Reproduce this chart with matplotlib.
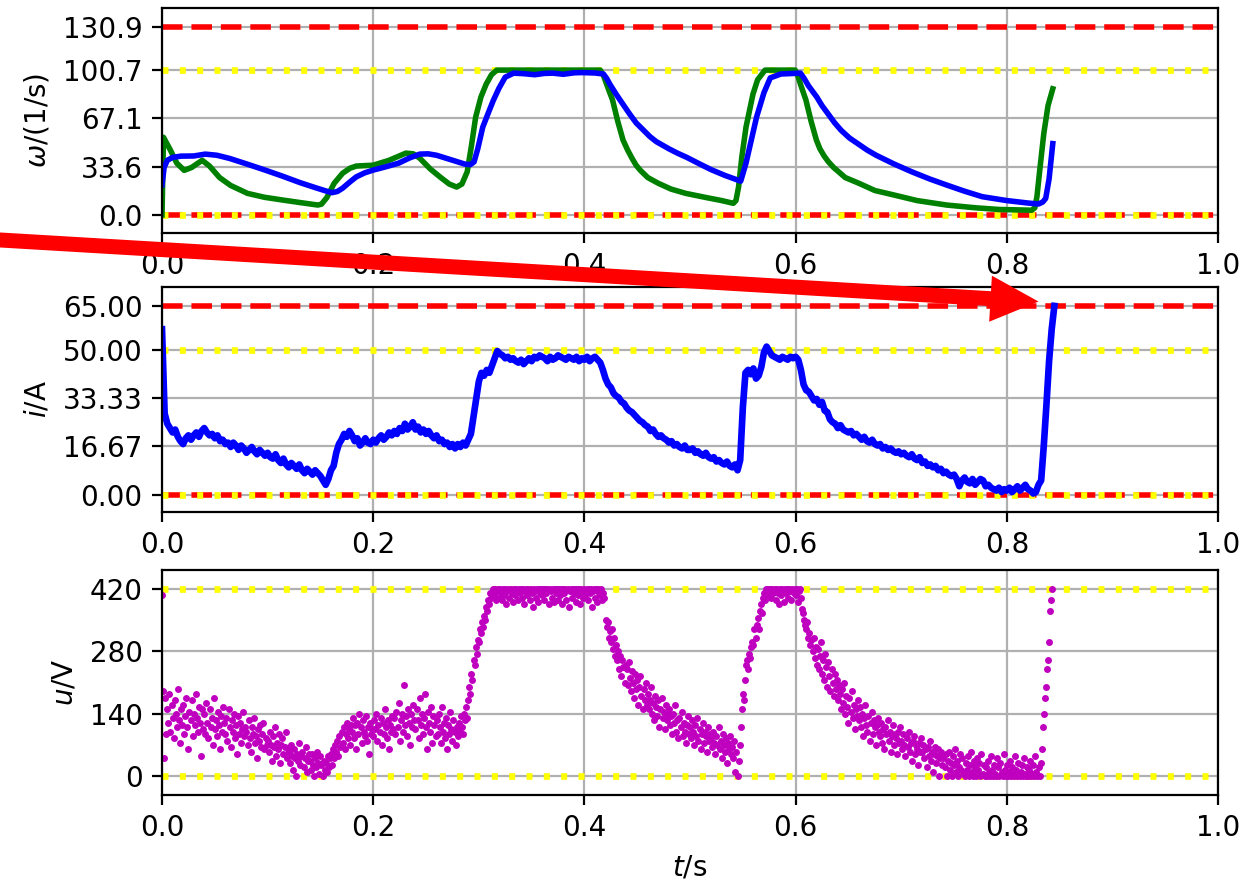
import numpy as np
import matplotlib.pyplot as plt

t_ref = [0.0, 0.0014, 0.008, 0.014, 0.021, 0.028, 0.038, 0.045, 0.0545, 0.065, 0.081, 0.097,
         0.114, 0.13, 0.1475, 0.151, 0.156, 0.163, 0.171, 0.178, 0.184, 0.2, 0.215, 0.231,
         0.238, 0.244, 0.254, 0.264, 0.272, 0.279, 0.284, 0.289, 0.293, 0.297, 0.302, 0.307,
         0.312, 0.317, 0.415, 0.418, 0.421, 0.4235, 0.4266, 0.4316, 0.4366, 0.441, 0.445, 0.449,
         0.453, 0.46, 0.47, 0.482, 0.496, 0.516, 0.53, 0.541, 0.5435, 0.546, 0.549, 0.553,
         0.5596, 0.564, 0.571, 0.5996, 0.602, 0.605, 0.6097, 0.6147, 0.6197, 0.623, 0.627, 0.631,
         0.636, 0.647, 0.66, 0.675, 0.693, 0.715, 0.743, 0.77, 0.793, 0.8235, 0.8265, 0.8285,
         0.831, 0.835, 0.839, 0.8435]
omega_ref = [0.0, 54, 45, 36, 31, 33, 38, 34, 26, 20.5, 15, 12.3,
             10.4, 8.7, 6.9, 7.5, 12, 22, 29, 32.5, 34, 34.6, 38, 43,
             42.5, 39.5, 32, 26, 21.5, 19.4, 21.5, 30, 48, 68, 82, 91,
             97.5, 100.7, 100.7, 97, 91, 86, 80, 65, 52, 45, 39.5, 34.5,
             31, 26, 22, 18, 15, 12, 10, 8.1, 10, 19.6, 40, 61,
             84, 94, 100.7, 100.7, 97, 90, 80, 65, 52, 46, 41, 37,
             33, 26, 22, 17, 13.9, 10, 6.9, 5, 3.8, 3.3, 5, 12.7,
             30, 56.6, 76, 87.7]

t_omega = [0.0, 0.002, 0.005, 0.01, 0.018, 0.03, 0.041, 0.052, 0.064, 0.08, 0.0976, 0.114,
           0.131, 0.146, 0.156, 0.161, 0.166, 0.171, 0.178, 0.184, 0.192, 0.2, 0.212, 0.224,
           0.234, 0.244, 0.252, 0.26, 0.274, 0.287, 0.292, 0.2955, 0.299, 0.3037, 0.309, 0.3137,
           0.319, 0.325, 0.333, 0.343, 0.353, 0.362, 0.37, 0.38, 0.39, 0.397, 0.41, 0.418,
           0.421, 0.424, 0.43, 0.436, 0.443, 0.449, 0.456, 0.462, 0.468, 0.474, 0.48, 0.488,
           0.497, 0.509, 0.52, 0.533, 0.548, 0.553, 0.558, 0.563, 0.57, 0.576, 0.586, 0.6046,
           0.608, 0.612, 0.62, 0.625, 0.631, 0.637, 0.643, 0.651, 0.66, 0.668, 0.676, 0.693,
           0.71, 0.727, 0.743, 0.76, 0.7767, 0.8, 0.82, 0.83, 0.834, 0.8368, 0.84, 0.8435]
omega = [21, 33, 38, 40, 40.9, 41, 42.3, 41.5, 39.3, 35.5, 31.2, 27,
         22.4, 18.8, 16.5, 15.5, 16.3, 18.6, 23, 26.5, 29.3, 31.2, 33.5, 36,
         39.5, 42.3, 42.5, 41.5, 38.3, 35.3, 35, 36.9, 46, 61, 71, 79.6,
         88, 95.8, 98.6, 98.2, 97.5, 98.4, 98.6, 97.8, 98.8, 99, 98.7, 98,
         95, 91, 84, 77.5, 70, 64, 58.9, 54.5, 51, 48.5, 46, 43,
         40, 35.5, 31.5, 27.5, 23.5, 36, 52, 68, 85, 95.3, 98, 98.6,
         95, 90, 82, 76, 70, 64, 58.9, 53.5, 49, 45, 41.6, 35.5,
         30, 25, 20.8, 16.5, 12.7, 10, 8.3, 7.6, 9, 11.5, 25, 49.6]

# current, one value every 2.5 ms
dt_i = 0.0025
current = [
    57.0, 28.0, 24.5, 23.0, 21.5, 22.5, 20.0, 18.5, 17.5, 19.5, 20.5, 19.0, 20.5, 21.5, 20.0, 22.0, 23.0, 21.5, 20.5, 21.0,
    19.5, 20.5, 18.5, 19.0, 17.5, 18.0, 16.5, 18.0, 17.0, 15.5, 17.0, 16.0, 14.5, 15.5, 16.5, 15.0, 14.0, 15.5, 14.5, 13.5,
    14.5, 13.0, 12.5, 14.0, 12.0, 11.0, 12.5, 10.5, 9.5, 11.0, 10.0, 9.0, 10.5, 8.5, 7.5, 9.0, 8.0, 7.0, 8.5, 7.5,
    6.5, 5.0, 3.5, 5.5, 8.5, 10.0, 14.5, 17.5, 19.0, 21.0, 20.0, 22.0, 20.5, 18.5, 19.5, 17.0, 18.0, 19.5, 18.0, 17.5,
    19.0, 18.0, 19.5, 20.5, 19.0, 20.0, 21.5, 20.5, 22.0, 21.0, 23.0, 22.0, 24.5, 22.5, 23.5, 25.0, 22.5, 23.5, 21.5, 22.5,
    21.0, 22.0, 20.5, 19.5, 20.5, 18.5, 19.0, 17.5, 18.0, 16.5, 17.5, 16.0, 17.5, 16.5, 18.0, 17.0, 19.0, 21.0, 27.0, 33.0,
    39.0, 42.0, 41.0, 43.0, 42.0, 44.5, 47.0, 49.5, 48.5, 48.0, 47.0, 47.5, 46.5, 47.0, 46.0, 45.5, 46.5, 45.0, 46.0, 47.0,
    46.0, 47.5, 47.0, 48.0, 47.5, 47.0, 46.0, 47.5, 46.5, 47.0, 48.0, 47.5, 47.0, 46.5, 47.5, 47.0, 46.5, 47.5, 46.0, 47.0,
    46.5, 47.5, 46.0, 47.0, 47.5, 46.5, 45.5, 43.0, 40.0, 38.0, 37.0, 35.0, 34.0, 33.5, 32.0, 31.5, 30.0, 29.0, 28.5, 27.5,
    26.5, 25.5, 25.0, 24.0, 23.5, 22.0, 22.5, 21.0, 20.0, 20.5, 19.5, 19.0, 18.0, 18.5, 17.0, 17.5, 16.5, 16.0, 17.0, 15.5,
    15.5, 16.0, 14.5, 15.0, 14.0, 13.5, 14.5, 13.0, 12.5, 13.0, 11.5, 12.0, 11.0, 10.5, 11.5, 10.0, 9.5, 10.5, 8.5, 12.0,
    30.0, 42.0, 43.0, 41.5, 43.5, 40.0, 41.0, 44.0, 49.0, 51.0, 49.5, 48.0, 47.5, 47.0, 46.5, 47.5, 47.0, 46.5, 47.5, 47.0,
    47.5, 46.5, 43.0, 38.0, 36.0, 35.5, 34.0, 32.5, 33.0, 31.0, 32.0, 29.0, 28.5, 26.0, 25.0, 24.5, 23.0, 24.0, 22.5, 22.0,
    21.5, 22.0, 20.5, 21.0, 20.0, 19.0, 20.0, 18.5, 18.0, 19.0, 17.5, 17.0, 17.5, 16.0, 16.5, 15.5, 16.0, 15.0, 14.5, 15.0,
    14.0, 14.5, 13.5, 13.0, 14.0, 12.5, 12.0, 13.0, 11.0, 11.5, 10.0, 10.5, 9.5, 10.0, 8.5, 9.0, 7.5, 8.0, 7.0, 6.5,
    7.0, 5.5, 3.0, 5.0, 6.0, 4.5, 4.0, 5.5, 3.5, 4.5, 5.5, 5.0, 3.0, 3.5, 2.5, 2.0, 1.5, 2.5, 1.0, 2.0,
    1.5, 2.5, 1.0, 2.0, 3.0, 1.5, 2.5, 3.5, 2.0, 1.5, 0.5, 1.0, 3.5, 5.0, 17.0, 31.0, 46.0, 57.0, 65.0,
]

# voltage, one value every 1 ms
dt_u = 0.001
voltage = [
    405, 190, 42, 175, 95, 150, 120, 185, 100, 160, 130, 85, 170, 140, 110, 195, 125, 75, 150, 115,
    160, 95, 135, 175, 110, 60, 145, 125, 170, 90, 140, 115, 185, 130, 100, 155, 120, 45, 150, 105,
    140, 95, 165, 120, 85, 150, 110, 130, 70, 175, 105, 125, 90, 145, 115, 60, 135, 100, 155, 120,
    95, 130, 80, 150, 110, 65, 125, 100, 140, 85, 115, 50, 135, 95, 120, 75, 105, 145, 90, 110,
    100, 70, 125, 85, 55, 110, 95, 130, 75, 90, 40, 105, 80, 115, 65, 95, 120, 60, 85, 70,
    80, 55, 100, 70, 35, 90, 65, 110, 45, 75, 60, 95, 30, 70, 85, 50, 65, 100, 40, 60,
    55, 30, 70, 45, 15, 60, 40, 0, 50, 35, 75, 25, 45, 55, 20, 40, 65, 10, 35, 50,
    35, 15, 50, 25, 0, 40, 20, 55, 30, 5, 45, 25, 0, 35, 15, 30, 10, 45, 20, 40,
    50, 25, 60, 40, 70, 55, 80, 45, 90, 65, 100, 75, 110, 60, 95, 120, 85, 105, 70, 115,
    100, 130, 85, 115, 60, 120, 95, 140, 110, 75, 125, 100, 90, 135, 80, 110, 50, 120, 95, 105,
    90, 125, 105, 140, 80, 115, 100, 130, 70, 120, 95, 150, 110, 85, 125, 60, 115, 100, 135, 105,
    130, 95, 145, 110, 165, 80, 125, 140, 100, 205, 115, 135, 90, 150, 120, 70, 140, 110, 160, 125,
    105, 150, 125, 85, 175, 115, 140, 95, 130, 185, 110, 60, 145, 120, 100, 155, 75, 135, 115, 90,
    125, 95, 140, 110, 75, 155, 100, 120, 85, 130, 60, 115, 95, 145, 105, 80, 125, 100, 70, 110,
    90, 120, 100, 135, 110, 95, 140, 125, 155, 130, 170, 200, 185, 230, 215, 260, 250, 290, 275, 305,
    300, 330, 320, 345, 335, 360, 350, 380, 370, 395, 385, 410, 400, 420, 405, 420, 395, 415, 420, 400,
    420, 410, 395, 420, 405, 420, 385, 415, 420, 400, 420, 410, 390, 420, 405, 420, 415, 395, 420, 410,
    420, 400, 420, 385, 415, 420, 405, 420, 395, 420, 410, 380, 420, 415, 400, 420, 390, 420, 410, 420,
    405, 420, 395, 420, 410, 420, 385, 420, 415, 400, 420, 390, 420, 410, 420, 395, 420, 405, 420, 385,
    420, 410, 420, 395, 420, 380, 415, 420, 400, 420, 410, 420, 390, 420, 405, 420, 385, 420, 415, 400,
    420, 405, 420, 395, 420, 410, 420, 380, 415, 420, 400, 420, 390, 420, 410, 405, 420, 395, 410, 400,
    350, 335, 345, 310, 325, 300, 330, 285, 310, 270, 295, 260, 280, 240, 270, 225, 260, 245, 210, 250,
    240, 205, 255, 220, 190, 235, 210, 175, 230, 195, 215, 160, 200, 225, 180, 150, 195, 170, 210, 160,
    185, 150, 170, 200, 140, 165, 125, 180, 155, 135, 170, 110, 150, 175, 130, 145, 105, 160, 125, 140,
    150, 115, 135, 95, 140, 120, 160, 100, 125, 85, 130, 110, 145, 90, 120, 100, 75, 115, 135, 95,
    110, 85, 125, 100, 70, 115, 90, 130, 80, 105, 60, 95, 120, 75, 100, 90, 55, 110, 80, 95,
    85, 65, 100, 75, 50, 90, 70, 110, 60, 80, 40, 95, 70, 55, 85, 30, 75, 60, 90, 50,
    65, 40, 80, 10, 55, 0, 35, 70, 110, 150, 185, 170, 215, 250, 260, 240, 275, 265, 290, 300,
    295, 330, 310, 340, 355, 330, 370, 385, 365, 400, 410, 395, 420, 405, 420, 415, 420, 400, 420, 410,
    420, 395, 420, 410, 385, 420, 405, 420, 415, 390, 420, 410, 420, 400, 420, 415, 395, 420, 410, 420,
    405, 420, 390, 415, 420, 400, 375, 365, 350, 340, 330, 345, 310, 320, 295, 305, 280, 310, 265, 290,
    250, 285, 240, 270, 300, 230, 260, 215, 275, 245, 200, 255, 225, 190, 240, 210, 180, 230, 195, 215,
    170, 205, 185, 150, 195, 165, 210, 140, 180, 155, 120, 175, 145, 190, 130, 160, 105, 150, 135, 170,
    125, 155, 110, 140, 90, 130, 160, 115, 100, 135, 80, 120, 145, 95, 125, 110, 70, 115, 130, 100,
    90, 120, 75, 105, 60, 110, 95, 125, 80, 100, 55, 90, 115, 70, 95, 85, 50, 100, 75, 110,
    80, 60, 95, 70, 45, 85, 65, 100, 55, 75, 35, 80, 90, 50, 70, 60, 25, 75, 55, 85,
    55, 70, 40, 60, 20, 65, 45, 80, 35, 55, 10, 50, 65, 30, 45, 60, 0, 40, 55, 25,
    40, 20, 50, 0, 35, 55, 15, 30, 0, 45, 25, 60, 10, 35, 0, 20, 50, 15, 40, 5,
    0, 30, 15, 45, 0, 25, 55, 10, 0, 35, 20, 0, 40, 15, 30, 0, 50, 5, 25, 0,
    20, 0, 35, 10, 0, 45, 15, 0, 25, 5, 0, 40, 20, 0, 30, 10, 0, 50, 15, 0,
    25, 0, 10, 35, 0, 20, 5, 0, 45, 15, 0, 30, 0, 10, 25, 0, 40, 5, 0, 20,
    0, 15, 35, 0, 5, 25, 0, 45, 10, 0, 20, 0, 30, 60, 110, 140, 175, 200, 240, 260,
    300, 370, 395, 420,
]

# nominal values (yellow) and limits (red)
omega_nom, omega_lim = 100.7, 130.9
i_nom, i_lim = 50.0, 65.0
u_nom = 420.0

omega_ticks = [0.0, 33.6, 67.1, 100.7, 130.9]
i_ticks = [0.0, 16.67, 33.33, 50.0, 65.0]
u_ticks = [0, 140, 280, 420]

t_i = np.arange(len(current)) * dt_i
t_u = np.arange(len(voltage)) * dt_u

fig = plt.figure(figsize=(6.265, 4.41), dpi=200)
ax1 = fig.add_axes([0.1293, 0.7360, 0.8428, 0.2551])
ax2 = fig.add_axes([0.1293, 0.4195, 0.8428, 0.2551])
ax3 = fig.add_axes([0.1293, 0.0986, 0.8428, 0.2551])


def limit_lines(ax, nom, lim):
    if lim is not None:
        ax.axhline(lim, color='r', ls='--', lw=2)
        ax.axhline(0, color='r', ls='--', lw=2)
    ax.axhline(nom, color='yellow', ls=(0, (0.9, 1.7)), lw=2.4)
    ax.axhline(0, color='yellow', ls=(0, (0.9, 1.7)), lw=2.4)


# speed
limit_lines(ax1, omega_nom, omega_lim)
ax1.plot(t_ref, omega_ref, color='g', lw=2)
ax1.plot(t_omega, omega, color='b', lw=2)
ax1.set_yticks(omega_ticks)
ax1.set_yticklabels(['%.1f' % v for v in omega_ticks])
ax1.set_ylim(-0.095 * omega_lim, 1.1 * omega_lim)
ax1.set_ylabel(r'$\omega$/(1/s)')

# current
limit_lines(ax2, i_nom, i_lim)
ax2.plot(t_i, current, color='b', lw=2.4)
ax2.set_yticks(i_ticks)
ax2.set_yticklabels(['%.2f' % v for v in i_ticks])
ax2.set_ylim(-0.09 * i_lim, 1.1 * i_lim)
ax2.set_ylabel(r'$i$/A')

# voltage
limit_lines(ax3, u_nom, None)
ax3.plot(t_u, voltage, 'o', color='m', ms=2.5, mew=0)
ax3.set_yticks(u_ticks)
ax3.set_yticklabels(['%d' % v for v in u_ticks])
ax3.set_ylim(-0.1 * u_nom, 1.1 * u_nom)
ax3.set_ylabel(r'$u$/V')
ax3.set_xlabel(r'$t$/s')

for ax in (ax1, ax2, ax3):
    ax.set_xlim(0, 1)
    ax.set_xticks([0, 0.2, 0.4, 0.6, 0.8, 1.0])
    ax.grid(True)

# red arrow pointing at the current hitting its limit
ax2.annotate('', xy=(0.83, 66.5), xycoords='data',
             xytext=(-0.02, 0.7296), textcoords='figure fraction',
             arrowprops=dict(arrowstyle='simple,head_length=1.73,head_width=1.66,tail_width=0.54',
                             mutation_scale=10, color='red', lw=0, shrinkA=0, shrinkB=0),
             annotation_clip=False)

fig.savefig('out.png', dpi=200)
